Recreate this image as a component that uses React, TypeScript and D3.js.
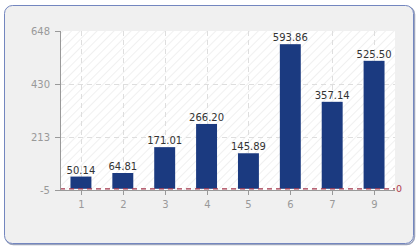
import React from "react";
import * as d3 from "d3";

const categories = ["1", "2", "3", "4", "5", "6", "7", "9"];
const values = [50.14, 64.81, 171.01, 266.2, 145.89, 593.86, 357.14, 525.5];
const yTicks = [-5, 213, 430, 648];

export default function App() {
  const W = 420, H = 250;
  const left = 60, right = 395, top = 31, bottom = 190;
  const x = d3.scaleBand<string>().domain(categories).range([left, right]).paddingInner(0.5).paddingOuter(0.25);
  const y = d3.scaleLinear().domain([-5, 648]).range([bottom, top]);
  const font = "'DejaVu Sans', Verdana, sans-serif";
  const y0 = y(0);
  return (
    <svg width={W} height={H} style={{ position: "absolute", left: 0, top: 0 }}>
      <defs>
        <pattern id="hatch" width="6" height="6" patternUnits="userSpaceOnUse" patternTransform="rotate(45)">
          <rect width="6" height="6" fill="#ffffff" />
          <line x1="0" y1="0" x2="0" y2="6" stroke="#ececec" strokeWidth="1.5" />
        </pattern>
      </defs>
      <rect x={5.5} y={6.5} width={409} height={238} rx={8} fill="none" stroke="#3a4a7a" strokeWidth={1.5} opacity={0.5} />
      <rect x={4.5} y={5.5} width={409} height={238} rx={8} fill="#f0f0f0" stroke="#7386bf" strokeWidth={1} />
      <rect x={left} y={top} width={right - left} height={bottom - top} fill="url(#hatch)" />
      {yTicks.slice(1, 3).map((t) => (
        <line key={t} x1={left} x2={right} y1={Math.round(y(t)) + 0.5} y2={Math.round(y(t)) + 0.5} stroke="#dedede" strokeDasharray="5,4" />
      ))}
      {categories.map((c) => {
        const cx = Math.round(x(c)! + x.bandwidth() / 2) + 0.5;
        return <line key={c} x1={cx} x2={cx} y1={top} y2={bottom} stroke="#dedede" strokeDasharray="5,4" />;
      })}
      {categories.map((c, i) => (
        <g key={c}>
          <rect x={x(c)!} y={y(values[i])} width={x.bandwidth()} height={y0 - y(values[i])} fill="#1b3a80" />
          <text x={x(c)! + x.bandwidth() / 2} y={y(values[i]) - 3} textAnchor="middle" fontFamily={font} fontSize={10} fill="#333">
            {values[i].toFixed(2)}
          </text>
        </g>
      ))}
      <line x1={left} x2={right} y1={y0} y2={y0} stroke="#a3344a" strokeWidth={1.2} strokeDasharray="5,4" />
      <text x={right + 1} y={y0 + 3} fontFamily={font} fontSize={9.5} fill="#b04050">0</text>
      <line x1={left + 0.5} x2={left + 0.5} y1={top} y2={bottom} stroke="#999" />
      <line x1={left} x2={right} y1={bottom + 0.5} y2={bottom + 0.5} stroke="#999" />
      {yTicks.map((t) => (
        <g key={t}>
          <line x1={left - 5} x2={left} y1={Math.round(y(t)) + 0.5} y2={Math.round(y(t)) + 0.5} stroke="#999" />
          <text x={50} y={y(t) + 4} textAnchor="end" fontFamily={font} fontSize={10} fill="#999">{t}</text>
        </g>
      ))}
      {categories.map((c) => {
        const cx = Math.round(x(c)! + x.bandwidth() / 2) + 0.5;
        return (
          <g key={c}>
            <line x1={cx} x2={cx} y1={bottom} y2={bottom + 5} stroke="#999" />
            <text x={cx} y={bottom + 18} textAnchor="middle" fontFamily={font} fontSize={10} fill="#999">{c}</text>
          </g>
        );
      })}
    </svg>
  );
}
